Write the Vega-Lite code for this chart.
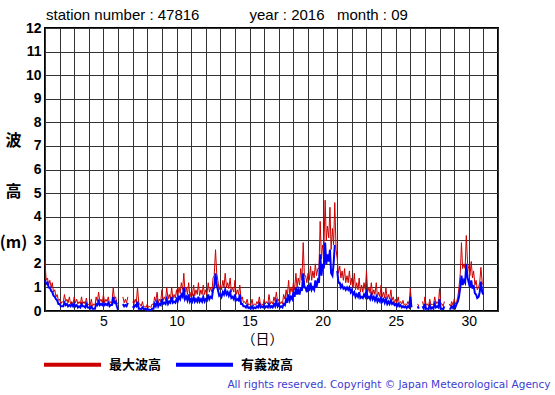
{
"$schema": "https://vega.github.io/schema/vega-lite/v6.json",
"width": 453,
"height": 283,
"autosize": "none",
"padding": {"left": 45, "top": 28, "right": 57, "bottom": 84},
"background": "white",
"title": {"text": "station number : 47816\u00a0\u00a0\u00a0\u00a0\u00a0\u00a0\u00a0\u00a0\u00a0\u00a0\u00a0 year : 2016\u00a0\u00a0 month : 09", "anchor": "start", "frame": "group", "offset": -2, "fontSize": 15, "fontWeight": "normal", "font": "Liberation Sans", "color": "#000", "dx": 1},
"config": {"view": {"stroke": "#000", "strokeWidth": 2}, "font": "Liberation Sans"},
"data": {"values": [
{"t":1.00,"max":2.1,"sig":1.3},{"t":1.08,"max":1.3,"sig":1.15},{"t":1.17,"max":1.4,"sig":1.2},{"t":1.25,"max":1.1,"sig":1.0},{"t":1.33,"max":1.3,"sig":1.0},{"t":1.42,"max":1.0,"sig":0.85},{"t":1.50,"max":1.2,"sig":0.8},{"t":1.58,"max":0.8,"sig":0.65},{"t":1.67,"max":0.9,"sig":0.6},{"t":1.75,"max":0.6,"sig":0.5},{"t":1.83,"max":0.7,"sig":0.45},{"t":1.92,"max":0.45,"sig":0.3},
{"t":2.00,"max":0.5,"sig":0.3},{"t":2.08,"max":0.3,"sig":0.2},{"t":2.17,"max":0.4,"sig":0.2},{"t":2.25,"max":0.35,"sig":0.2},{"t":2.33,"max":0.7,"sig":0.35},{"t":2.42,"max":0.4,"sig":0.25},{"t":2.50,"max":0.5,"sig":0.3},{"t":2.58,"max":0.35,"sig":0.2},{"t":2.67,"max":0.6,"sig":0.25},{"t":2.75,"max":0.3,"sig":0.2},{"t":2.83,"max":0.4,"sig":0.3},{"t":2.92,"max":0.3,"sig":0.2},
{"t":3.00,"max":0.6,"sig":0.3},{"t":3.08,"max":0.35,"sig":0.2},{"t":3.17,"max":0.5,"sig":0.25},{"t":3.25,"max":0.3,"sig":0.15},{"t":3.33,"max":0.4,"sig":0.2},{"t":3.42,"max":0.3,"sig":0.15},{"t":3.50,"max":0.6,"sig":0.3},{"t":3.58,"max":0.3,"sig":0.2},{"t":3.67,"max":0.4,"sig":0.2},{"t":3.75,"max":0.3,"sig":0.15},{"t":3.83,"max":0.55,"sig":0.3},{"t":3.92,"max":0.25,"sig":0.15},
{"t":4.00,"max":0.3,"sig":0.15},{"t":4.08,"max":0.2,"sig":0.1},{"t":4.17,"max":0.5,"sig":0.2},{"t":4.25,"max":0.2,"sig":0.1},{"t":4.33,"max":0.3,"sig":0.1},{"t":4.42,"max":0.25,"sig":0.1},{"t":4.50,"max":0.6,"sig":0.3},{"t":4.58,"max":0.4,"sig":0.25},{"t":4.67,"max":0.8,"sig":0.4},{"t":4.75,"max":0.4,"sig":0.25},{"t":4.83,"max":0.5,"sig":0.3},{"t":4.92,"max":0.35,"sig":0.25},
{"t":5.00,"max":0.7,"sig":0.35},{"t":5.08,"max":0.35,"sig":0.25},{"t":5.17,"max":0.5,"sig":0.3},{"t":5.25,"max":0.4,"sig":0.25},{"t":5.33,"max":0.6,"sig":0.35},{"t":5.42,"max":0.3,"sig":0.2},{"t":5.50,"max":0.4,"sig":0.25},{"t":5.58,"max":0.35,"sig":0.25},{"t":5.67,"max":1.0,"sig":0.6},{"t":5.75,"max":0.5,"sig":0.35},{"t":5.83,"max":0.6,"sig":0.4},{"t":5.92,"max":0.35,"sig":0.2},
{"t":6.00,"max":0.3,"sig":0.05},{"t":6.17,"max":null,"sig":null},{"t":6.33,"max":0.6,"sig":0.3},{"t":6.42,"max":0.35,"sig":0.2},{"t":6.50,"max":0.5,"sig":0.25},{"t":6.58,"max":0.35,"sig":0.2},{"t":6.67,"max":0.6,"sig":0.35},{"t":6.83,"max":null,"sig":null},
{"t":7.00,"max":0.4,"sig":0.2},{"t":7.08,"max":0.3,"sig":0.15},{"t":7.17,"max":0.5,"sig":0.25},{"t":7.25,"max":0.35,"sig":0.2},{"t":7.33,"max":1.0,"sig":0.4},{"t":7.42,"max":0.3,"sig":0.1},{"t":7.50,"max":0.3,"sig":0.1},{"t":7.58,"max":0.2,"sig":0.08},{"t":7.67,"max":0.4,"sig":0.15},{"t":7.75,"max":0.15,"sig":0.08},{"t":7.83,"max":0.2,"sig":0.1},{"t":7.92,"max":0.15,"sig":0.05},
{"t":8.00,"max":0.3,"sig":0.1},{"t":8.08,"max":0.15,"sig":0.05},{"t":8.17,"max":0.2,"sig":0.05},{"t":8.25,"max":0.15,"sig":0.03},{"t":8.33,"max":0.3,"sig":0.1},{"t":8.42,"max":0.25,"sig":0.1},{"t":8.50,"max":0.6,"sig":0.3},{"t":8.58,"max":0.4,"sig":0.2},{"t":8.67,"max":0.8,"sig":0.4},{"t":8.75,"max":0.35,"sig":0.2},{"t":8.83,"max":0.5,"sig":0.3},{"t":8.92,"max":0.4,"sig":0.25},
{"t":9.00,"max":0.9,"sig":0.5},{"t":9.08,"max":0.45,"sig":0.3},{"t":9.17,"max":0.6,"sig":0.35},{"t":9.25,"max":0.45,"sig":0.3},{"t":9.33,"max":1.0,"sig":0.5},{"t":9.42,"max":0.5,"sig":0.3},{"t":9.50,"max":0.7,"sig":0.4},{"t":9.58,"max":0.5,"sig":0.35},{"t":9.67,"max":1.0,"sig":0.6},{"t":9.75,"max":0.5,"sig":0.35},{"t":9.83,"max":0.7,"sig":0.4},{"t":9.92,"max":0.55,"sig":0.35},
{"t":10.00,"max":0.9,"sig":0.5},{"t":10.08,"max":0.6,"sig":0.4},{"t":10.17,"max":1.0,"sig":0.6},{"t":10.25,"max":0.75,"sig":0.5},{"t":10.33,"max":1.2,"sig":0.7},{"t":10.42,"max":0.9,"sig":0.6},{"t":10.50,"max":1.6,"sig":1.0},{"t":10.58,"max":0.8,"sig":0.5},{"t":10.67,"max":1.0,"sig":0.6},{"t":10.75,"max":0.7,"sig":0.45},{"t":10.83,"max":1.2,"sig":0.7},{"t":10.92,"max":0.6,"sig":0.4},
{"t":11.00,"max":0.8,"sig":0.5},{"t":11.08,"max":0.65,"sig":0.4},{"t":11.17,"max":1.1,"sig":0.6},{"t":11.25,"max":0.65,"sig":0.4},{"t":11.33,"max":0.9,"sig":0.5},{"t":11.42,"max":0.7,"sig":0.4},{"t":11.50,"max":1.2,"sig":0.6},{"t":11.58,"max":0.65,"sig":0.4},{"t":11.67,"max":0.9,"sig":0.5},{"t":11.75,"max":0.7,"sig":0.4},{"t":11.83,"max":1.1,"sig":0.6},{"t":11.92,"max":0.7,"sig":0.4},
{"t":12.00,"max":0.9,"sig":0.5},{"t":12.08,"max":0.7,"sig":0.45},{"t":12.17,"max":1.2,"sig":0.7},{"t":12.25,"max":0.8,"sig":0.5},{"t":12.33,"max":1.0,"sig":0.6},{"t":12.42,"max":0.8,"sig":0.55},{"t":12.50,"max":1.4,"sig":0.9},{"t":12.58,"max":1.5,"sig":1.0},{"t":12.67,"max":2.6,"sig":1.6},{"t":12.75,"max":1.6,"sig":1.1},{"t":12.83,"max":1.3,"sig":0.9},{"t":12.92,"max":0.9,"sig":0.65},
{"t":13.00,"max":1.1,"sig":0.7},{"t":13.08,"max":0.9,"sig":0.6},{"t":13.17,"max":1.3,"sig":0.8},{"t":13.25,"max":1.0,"sig":0.7},{"t":13.33,"max":1.6,"sig":0.9},{"t":13.42,"max":1.0,"sig":0.7},{"t":13.50,"max":1.2,"sig":0.8},{"t":13.58,"max":0.95,"sig":0.65},{"t":13.67,"max":1.4,"sig":0.8},{"t":13.75,"max":0.8,"sig":0.55},{"t":13.83,"max":1.0,"sig":0.6},{"t":13.92,"max":0.8,"sig":0.5},
{"t":14.00,"max":1.3,"sig":0.7},{"t":14.08,"max":0.7,"sig":0.45},{"t":14.17,"max":0.9,"sig":0.5},{"t":14.25,"max":0.7,"sig":0.45},{"t":14.33,"max":1.1,"sig":0.7},{"t":14.42,"max":0.5,"sig":0.3},{"t":14.50,"max":0.6,"sig":0.3},{"t":14.58,"max":0.35,"sig":0.2},{"t":14.67,"max":0.4,"sig":0.2},{"t":14.75,"max":0.3,"sig":0.15},{"t":14.83,"max":0.5,"sig":0.25},{"t":14.92,"max":0.25,"sig":0.12},
{"t":15.00,"max":0.3,"sig":0.15},{"t":15.08,"max":0.25,"sig":0.1},{"t":15.17,"max":0.5,"sig":0.2},{"t":15.25,"max":0.2,"sig":0.1},{"t":15.33,"max":0.3,"sig":0.15},{"t":15.42,"max":0.25,"sig":0.12},{"t":15.50,"max":0.4,"sig":0.2},{"t":15.58,"max":0.3,"sig":0.15},{"t":15.67,"max":0.6,"sig":0.3},{"t":15.75,"max":0.25,"sig":0.15},{"t":15.83,"max":0.3,"sig":0.2},{"t":15.92,"max":0.25,"sig":0.15},
{"t":16.00,"max":0.5,"sig":0.25},{"t":16.08,"max":0.3,"sig":0.15},{"t":16.17,"max":0.4,"sig":0.2},{"t":16.25,"max":0.3,"sig":0.15},{"t":16.33,"max":0.7,"sig":0.3},{"t":16.42,"max":0.3,"sig":0.15},{"t":16.50,"max":0.4,"sig":0.2},{"t":16.58,"max":0.3,"sig":0.15},{"t":16.67,"max":0.6,"sig":0.3},{"t":16.75,"max":0.4,"sig":0.2},{"t":16.83,"max":0.8,"sig":0.4},{"t":16.92,"max":0.4,"sig":0.2},
{"t":17.00,"max":0.5,"sig":0.3},{"t":17.08,"max":0.3,"sig":0.15},{"t":17.17,"max":0.4,"sig":0.2},{"t":17.25,"max":0.3,"sig":0.15},{"t":17.33,"max":0.7,"sig":0.3},{"t":17.42,"max":0.5,"sig":0.25},{"t":17.50,"max":0.9,"sig":0.5},{"t":17.58,"max":0.6,"sig":0.35},{"t":17.67,"max":1.3,"sig":0.7},{"t":17.75,"max":0.7,"sig":0.45},{"t":17.83,"max":1.0,"sig":0.6},{"t":17.92,"max":0.8,"sig":0.5},
{"t":18.00,"max":1.2,"sig":0.8},{"t":18.08,"max":0.9,"sig":0.6},{"t":18.17,"max":1.6,"sig":1.0},{"t":18.25,"max":1.0,"sig":0.7},{"t":18.33,"max":1.4,"sig":0.9},{"t":18.42,"max":1.1,"sig":0.7},{"t":18.50,"max":1.8,"sig":1.0},{"t":18.58,"max":1.3,"sig":0.85},{"t":18.67,"max":2.9,"sig":1.6},{"t":18.75,"max":1.5,"sig":1.0},{"t":18.83,"max":1.5,"sig":1.0},{"t":18.92,"max":1.2,"sig":0.8},
{"t":19.00,"max":1.6,"sig":1.1},{"t":19.08,"max":1.3,"sig":0.85},{"t":19.17,"max":1.9,"sig":1.2},{"t":19.25,"max":1.3,"sig":0.9},{"t":19.33,"max":1.7,"sig":1.0},{"t":19.42,"max":1.4,"sig":0.9},{"t":19.50,"max":2.0,"sig":1.3},{"t":19.58,"max":1.5,"sig":1.0},{"t":19.67,"max":1.8,"sig":1.3},{"t":19.75,"max":1.8,"sig":1.2},{"t":19.83,"max":3.8,"sig":2.4},{"t":19.92,"max":2.2,"sig":1.5},
{"t":20.00,"max":2.8,"sig":2.0},{"t":20.08,"max":2.6,"sig":1.8},{"t":20.17,"max":4.7,"sig":2.9},{"t":20.25,"max":3.0,"sig":2.0},{"t":20.33,"max":3.6,"sig":2.4},{"t":20.42,"max":3.1,"sig":2.1},{"t":20.50,"max":4.4,"sig":2.6},{"t":20.58,"max":2.6,"sig":1.6},{"t":20.67,"max":3.5,"sig":1.5},{"t":20.75,"max":2.8,"sig":2.0},{"t":20.83,"max":4.6,"sig":2.8},{"t":20.92,"max":2.6,"sig":null},
{"t":21.00,"max":2.2,"sig":1.7},{"t":21.08,"max":1.6,"sig":1.2},{"t":21.17,"max":1.9,"sig":1.2},{"t":21.25,"max":1.4,"sig":1.0},{"t":21.33,"max":1.7,"sig":1.1},{"t":21.42,"max":1.3,"sig":0.95},{"t":21.50,"max":1.8,"sig":1.0},{"t":21.58,"max":1.2,"sig":0.9},{"t":21.67,"max":1.5,"sig":1.0},{"t":21.75,"max":1.2,"sig":0.9},{"t":21.83,"max":1.7,"sig":1.0},{"t":21.92,"max":1.1,"sig":0.8},
{"t":22.00,"max":1.4,"sig":0.9},{"t":22.08,"max":1.0,"sig":0.7},{"t":22.17,"max":1.6,"sig":0.8},{"t":22.25,"max":0.9,"sig":0.6},{"t":22.33,"max":1.2,"sig":0.7},{"t":22.42,"max":0.9,"sig":0.6},{"t":22.50,"max":1.4,"sig":0.8},{"t":22.58,"max":0.8,"sig":0.55},{"t":22.67,"max":1.1,"sig":0.6},{"t":22.75,"max":0.8,"sig":0.55},{"t":22.83,"max":1.2,"sig":0.7},{"t":22.92,"max":0.9,"sig":0.6},
{"t":23.00,"max":1.7,"sig":0.9},{"t":23.08,"max":0.8,"sig":0.55},{"t":23.17,"max":1.0,"sig":0.6},{"t":23.25,"max":0.75,"sig":0.5},{"t":23.33,"max":1.2,"sig":0.7},{"t":23.42,"max":0.7,"sig":0.5},{"t":23.50,"max":0.9,"sig":0.6},{"t":23.58,"max":0.7,"sig":0.45},{"t":23.67,"max":1.2,"sig":0.6},{"t":23.75,"max":0.6,"sig":0.4},{"t":23.83,"max":0.8,"sig":0.5},{"t":23.92,"max":0.6,"sig":0.4},
{"t":24.00,"max":1.1,"sig":0.6},{"t":24.08,"max":0.6,"sig":0.4},{"t":24.17,"max":0.8,"sig":0.5},{"t":24.25,"max":0.55,"sig":0.35},{"t":24.33,"max":1.0,"sig":0.5},{"t":24.42,"max":0.5,"sig":0.3},{"t":24.50,"max":0.7,"sig":0.4},{"t":24.58,"max":0.5,"sig":0.3},{"t":24.67,"max":0.9,"sig":0.45},{"t":24.75,"max":0.45,"sig":0.3},{"t":24.83,"max":0.6,"sig":0.35},{"t":24.92,"max":0.35,"sig":0.25},
{"t":25.00,"max":0.5,"sig":0.3},{"t":25.08,"max":0.35,"sig":0.2},{"t":25.17,"max":0.6,"sig":0.3},{"t":25.25,"max":0.3,"sig":0.2},{"t":25.33,"max":0.4,"sig":0.25},{"t":25.42,"max":0.3,"sig":0.15},{"t":25.50,"max":0.45,"sig":0.2},{"t":25.58,"max":0.25,"sig":0.15},{"t":25.67,"max":0.3,"sig":0.2},{"t":25.75,"max":0.25,"sig":0.12},{"t":25.83,"max":0.4,"sig":0.2},{"t":25.92,"max":0.3,"sig":0.15},
{"t":26.00,"max":0.97,"sig":0.6},{"t":26.08,"max":0.3,"sig":0.15},{"t":26.17,"max":null,"sig":null},{"t":26.33,"max":null,"sig":null},{"t":26.50,"max":0.3,"sig":0.2},{"t":26.58,"max":0.2,"sig":0.1},{"t":26.67,"max":null,"sig":null},{"t":26.83,"max":0.4,"sig":0.2},{"t":26.92,"max":0.2,"sig":0.1},
{"t":27.00,"max":0.6,"sig":0.3},{"t":27.08,"max":0.25,"sig":0.1},{"t":27.17,"max":0.3,"sig":0.1},{"t":27.25,"max":0.2,"sig":0.08},{"t":27.33,"max":0.5,"sig":0.25},{"t":27.42,"max":0.25,"sig":0.1},{"t":27.50,"max":0.3,"sig":0.15},{"t":27.58,"max":0.25,"sig":0.1},{"t":27.67,"max":0.6,"sig":0.3},{"t":27.75,"max":0.3,"sig":0.15},{"t":27.83,"max":0.4,"sig":0.2},{"t":27.92,"max":0.3,"sig":0.15},
{"t":28.00,"max":0.95,"sig":0.5},{"t":28.08,"max":0.3,"sig":0.1},{"t":28.17,"max":0.3,"sig":0.1},{"t":28.25,"max":0.2,"sig":0.08},{"t":28.33,"max":0.4,"sig":0.2},{"t":28.50,"max":null,"sig":null},{"t":28.67,"max":0.3,"sig":0.1},{"t":28.75,"max":0.2,"sig":0.1},{"t":28.83,"max":0.4,"sig":0.2},{"t":28.92,"max":0.25,"sig":0.12},
{"t":29.00,"max":0.5,"sig":0.25},{"t":29.08,"max":0.3,"sig":0.15},{"t":29.17,"max":0.4,"sig":0.3},{"t":29.25,"max":0.6,"sig":0.4},{"t":29.33,"max":1.0,"sig":0.6},{"t":29.42,"max":1.6,"sig":1.0},{"t":29.50,"max":2.9,"sig":1.5},{"t":29.58,"max":1.8,"sig":1.1},{"t":29.67,"max":2.0,"sig":1.3},{"t":29.75,"max":1.8,"sig":1.2},{"t":29.83,"max":3.2,"sig":2.0},{"t":29.92,"max":2.0,"sig":1.4},
{"t":30.00,"max":1.8,"sig":1.2},{"t":30.08,"max":1.5,"sig":1.0},{"t":30.17,"max":2.1,"sig":1.3},{"t":30.25,"max":1.4,"sig":0.95},{"t":30.33,"max":1.7,"sig":1.1},{"t":30.42,"max":1.1,"sig":0.75},{"t":30.50,"max":1.3,"sig":0.7},{"t":30.58,"max":0.9,"sig":0.55},{"t":30.67,"max":1.0,"sig":0.6},{"t":30.75,"max":1.2,"sig":0.8},{"t":30.83,"max":1.85,"sig":1.25},{"t":30.92,"max":1.2,"sig":0.8},
{"t":31.00,"max":1.1,"sig":0.7}
]},
"encoding": {
  "x": {"field": "t", "type": "quantitative", "scale": {"domain": [1, 32], "nice": false, "zero": false},
    "axis": {"values": [1,2,3,4,5,6,7,8,9,10,11,12,13,14,15,16,17,18,19,20,21,22,23,24,25,26,27,28,29,30,31,32],
      "labelExpr": "datum.value % 5 === 0 ? datum.label : ''", "labelOverlap": false, "labelFlush": false,
      "labelFontSize": 14, "labelPadding": 3, "labelColor": "#000", "labelFont": "Liberation Sans",
      "ticks": false, "domain": false, "grid": true, "gridColor": "#333", "gridOpacity": 1, "gridWidth": 1,
      "title": "（日）", "titleFontSize": 14, "titleFontWeight": "normal", "titleFont": "Noto Sans CJK JP", "titleColor": "#000",
      "titleX": 217, "titleY": 28, "titleAlign": "center", "titleBaseline": "middle"}}
},
"layer": [
  {"mark": {"type": "line", "strokeWidth": 1, "invalid": "break-paths-show-domains"},
   "encoding": {
     "y": {"field": "max", "type": "quantitative", "scale": {"domain": [0, 12], "nice": false},
       "axis": {"values": [0,1,2,3,4,5,6,7,8,9,10,11,12], "labelFontSize": 14, "labelFontWeight": "bold", "labelColor": "#000", "labelFont": "Liberation Sans",
         "labelPadding": 4, "ticks": false, "domain": false, "grid": true, "gridColor": "#333", "gridOpacity": 1, "gridWidth": 1,
         "title": ["波", "高", "(m)"], "titleAngle": 0, "titleX": -32, "titleY": 104, "titleAlign": "center", "titleBaseline": "top",
         "titleFontSize": 16, "titleLineHeight": 51, "titleFontWeight": "bold", "titleFont": "Noto Sans CJK JP", "titleColor": "#000"}},
     "color": {"datum": "最大波高", "scale": {"domain": ["最大波高", "有義波高"], "range": ["#cc0000", "#0000ff"]},
       "legend": {"orient": "none", "legendX": -3, "legendY": 306, "direction": "horizontal", "title": null,
         "symbolType": "stroke", "symbolSize": 3249, "symbolStrokeWidth": 4, "labelFontSize": 13, "labelFontWeight": "bold",
         "labelFont": "Noto Sans CJK JP", "labelColor": "#000", "labelOffset": 6, "columnPadding": 6}}
   }},
  {"mark": {"type": "line", "strokeWidth": 2, "invalid": "break-paths-show-domains"},
   "encoding": {
     "y": {"field": "sig", "type": "quantitative",
       "axis": {"orient": "right", "labels": false, "ticks": false, "domain": false, "grid": false,
         "title": "All rights reserved. Copyright © Japan Meteorological Agency", "titleAngle": 0, "titleX": 52, "titleY": 356,
         "titleAlign": "right", "titleBaseline": "middle", "titleFontSize": 10.5, "titleFont": "DejaVu Sans", "titleFontWeight": "normal", "titleColor": "#3c3cd0"}},
     "color": {"datum": "有義波高"}
   }}
],
"resolve": {"axis": {"y": "independent"}}
}
